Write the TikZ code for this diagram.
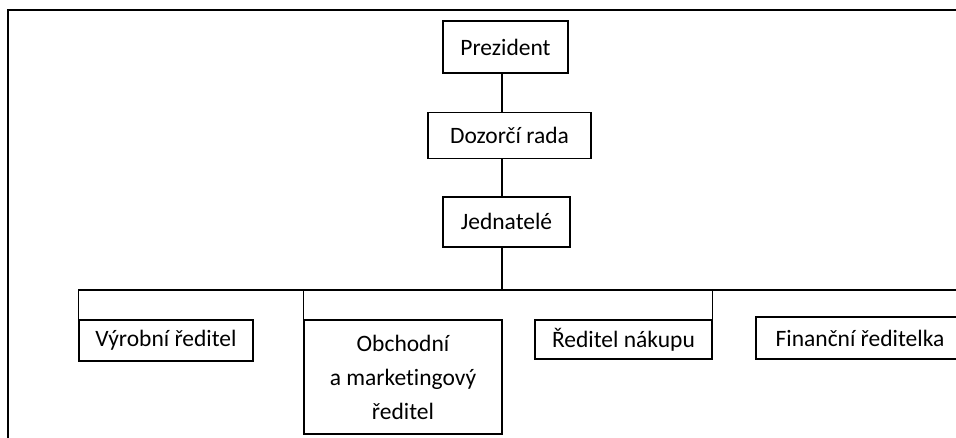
\documentclass[tikz,border=0pt]{standalone}
\usepackage{fontspec}
\setmainfont{Carlito}[Ligatures=NoCommon]
\usetikzlibrary{positioning}
\tikzset{
    obox/.style = {draw, line width=1.4pt, inner sep=0pt, align=center, font=\fontsize{23.5}{34}\selectfont},
    conn/.style = {line width=1.4pt}
}

\begin{document}
\begin{tikzpicture}[x=1pt, y=-1pt]
\clip (0,0) rectangle (956,437);
\node[obox, minimum width=125pt, minimum height=52pt] (prez) at (505.5,47) {Prezident};
\node[obox, minimum width=163pt, minimum height=46pt, below=38pt of prez, xshift=4pt] (rada) {Dozorčí rada};
\node[obox, minimum width=127pt, minimum height=50pt, below=37pt of rada, xshift=-3pt] (jedn) {Jednatelé};
\node[obox, minimum width=174pt, minimum height=41pt] (vyrob) at (166,340.5) {Výrobní ředitel};
\node[obox, minimum width=198pt, minimum height=114pt] (obch) at (403,377) {Obchodní\\a marketingový\\ředitel};
\node[obox, minimum width=177pt, minimum height=39pt] (nakup) at (623.5,339.5) {Ředitel nákupu};
\node[obox, minimum width=208pt, minimum height=42pt] (fin) at (860,338) {Finanční ředitelka};
\coordinate (trunk) at (502,0);
\coordinate (bus) at (502,290);
\coordinate (busend) at (960,290);
\coordinate (frametl) at (8,10);
% frame
\draw[line width=2.5pt] (8,440) -- (frametl) -- (960,10);
% tree
\draw[conn] (trunk |- prez.south) -- (trunk |- rada.north);
\draw[conn] (trunk |- rada.south) -- (trunk |- jedn.north);
\draw[conn] (trunk |- jedn.south) -- (bus);
\draw[conn] (vyrob.north west) -- (vyrob.north west |- bus) -- (busend);
\draw[conn] (obch.north west) -- (obch.north west |- bus);
\draw[conn] (nakup.north east) -- (nakup.north east |- bus);
\end{tikzpicture}
\end{document}
